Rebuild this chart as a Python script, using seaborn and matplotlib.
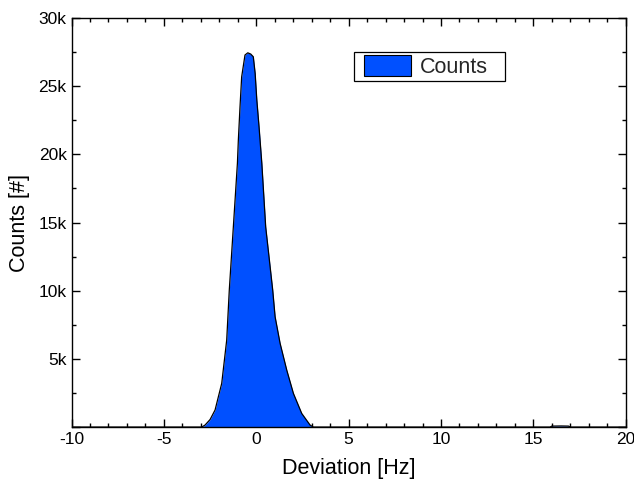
import numpy as np
import pandas as pd
import matplotlib
matplotlib.use("Agg")
import matplotlib.pyplot as plt
import seaborn as sns
from matplotlib.ticker import MultipleLocator, FuncFormatter

# Deviation histogram, values
deviation_hz = [-10.0, -5.0, -3.2, -2.95, -2.77, -2.5, -2.23, -1.87, -1.60, -1.46, -1.24,
                -1.02, -0.97, -0.88, -0.79, -0.61, -0.46, -0.30, -0.16, -0.06, 0.03,
                0.15, 0.30, 0.51, 0.89, 1.02, 1.29, 1.65, 2.01, 2.46, 2.91, 3.09, 3.3,
                10.0, 15.9, 16.0, 16.5, 16.9, 17.0, 20.0]
counts = [0, 0, 0, 0, 150, 550, 1250, 3200, 6380, 10050, 14690,
          19360, 21050, 23490, 25690, 27290, 27450, 27360, 27160, 25940, 23990,
          22030, 19360, 14690, 10050, 8090, 6140, 4180, 2470, 1000, 150, 0, 0,
          0, 0, 70, 80, 70, 0, 0]

fill_color = "#0050FF"

sns.set_style("ticks")
plt.rcParams["font.family"] = ["Liberation Sans", "DejaVu Sans"]
plt.rcParams["axes.unicode_minus"] = False

df = pd.DataFrame({"x": deviation_hz, "y": counts})

fig = plt.figure(figsize=(6.34, 4.92), dpi=100)
ax = fig.add_axes([0.1128, 0.132, 0.8742, 0.8313])

ax.fill_between(df["x"], df["y"], 0, color=fill_color, lw=0)
sns.lineplot(data=df, x="x", y="y", ax=ax, color="black", lw=0.9, legend=False)

ax.set_xlim(-10, 20)
ax.set_ylim(0, 30000)
ax.xaxis.set_major_locator(MultipleLocator(5))
ax.xaxis.set_minor_locator(MultipleLocator(1))
ax.yaxis.set_major_locator(MultipleLocator(5000))
ax.yaxis.set_minor_locator(MultipleLocator(2500))
ax.yaxis.set_major_formatter(FuncFormatter(lambda v, p: "" if v == 0 else f"{int(v / 1000)}k"))

ax.tick_params(which="both", direction="in", top=True, right=True, labelsize=12.5,
               width=1.0, color="black", labelcolor="black")
ax.tick_params(which="major", length=6)
ax.tick_params(which="minor", length=3)
for s in ax.spines.values():
    s.set_linewidth(1.0)
    s.set_color("black")

ax.set_xlabel("Deviation [Hz]", fontsize=15.5, labelpad=8, color="black")
ax.set_ylabel("Counts [#]", fontsize=15.5, labelpad=6, color="black")

# legend box drawn separately, it is wider than the entry itself
ax.add_patch(plt.Rectangle((0.5097, 0.846), 0.2725, 0.071, transform=ax.transAxes,
                           facecolor="white", edgecolor="black", lw=0.9, zorder=4))
leg = ax.legend(handles=[plt.Rectangle((0, 0), 1, 1, facecolor=fill_color, edgecolor="black", lw=0.8)],
                labels=["Counts"], loc="upper left", bbox_to_anchor=(0.5278, 0.9095),
                borderaxespad=0, borderpad=0, fontsize=15.5, frameon=False,
                handlelength=2.2, handleheight=1.15, handletextpad=0.4)
leg.set_zorder(5)

fig.savefig("out.png", dpi=100)
